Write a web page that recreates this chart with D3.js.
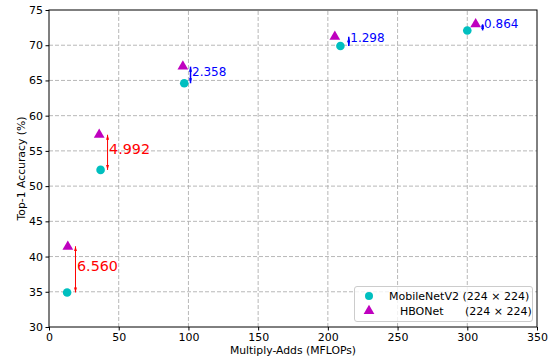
<!DOCTYPE html>
<html>
<head>
<meta charset="utf-8">
<script src="https://cdn.jsdelivr.net/npm/d3@7"></script>
<style>
  body { margin: 0; background: #fff; }
  svg { font-family: "DejaVu Sans", sans-serif; }
</style>
</head>
<body>
<svg id="chart" width="549" height="358"></svg>
<script>
// data
var mbFlops = [13, 37, 97, 209, 300];
var mbAcc = [34.9, 52.3, 64.6, 69.9, 72.1];
var hbFlops = [13.5, 36, 96, 205, 306];
var hbAcc = [41.4, 57.3, 67.0, 71.2, 73.0];
var gapText = ["6.560", "4.992", "2.358", "1.298", "0.864"];
var gapVal = [6.560, 4.992, 2.358, 1.298, 0.864];
var arrowFlops = [19, 42, 101.5, 215, 311];
var xTicks = [0, 50, 100, 150, 200, 250, 300, 350];
var yTicks = [30, 35, 40, 45, 50, 55, 60, 65, 70, 75];

var svg = d3.select("#chart");
var x = d3.scaleLinear().domain([0, 350]).range([49, 537]);
var y = d3.scaleLinear().domain([30, 75]).range([327, 10]);

// grid
svg.append("g").selectAll("line").data(xTicks.slice(1, -1)).enter().append("line")
  .attr("x1", function(d) { return x(d); }).attr("x2", function(d) { return x(d); })
  .attr("y1", y(30)).attr("y2", y(75))
  .attr("stroke", "#b0b0b0").attr("stroke-dasharray", "4,2").attr("stroke-width", 0.9);
svg.append("g").selectAll("line").data(yTicks.slice(1, -1)).enter().append("line")
  .attr("y1", function(d) { return y(d); }).attr("y2", function(d) { return y(d); })
  .attr("x1", x(0)).attr("x2", x(350))
  .attr("stroke", "#b0b0b0").attr("stroke-dasharray", "4,2").attr("stroke-width", 0.9);

// axes
var xAxis = d3.axisBottom(x).tickValues(xTicks).tickSizeOuter(0).tickSize(3.5).tickPadding(2.5);
var yAxis = d3.axisLeft(y).tickValues(yTicks).tickSizeOuter(0).tickSize(3.5).tickPadding(2.5);
var gx = svg.append("g").attr("transform", "translate(0," + y(30) + ")").call(xAxis);
var gy = svg.append("g").attr("transform", "translate(" + x(0) + ",0)").call(yAxis);
[gx, gy].forEach(function(g) {
  g.select(".domain").remove();
  g.selectAll("text").attr("font-size", 11).attr("fill", "#000").attr("font-family", "DejaVu Sans");
  g.selectAll("line").attr("stroke", "#000");
});
svg.append("rect").attr("x", x(0)).attr("y", y(75))
  .attr("width", x(350) - x(0)).attr("height", y(30) - y(75))
  .attr("fill", "none").attr("stroke", "#000").attr("stroke-width", 1);

svg.append("text").attr("x", (x(0) + x(350)) / 2).attr("y", 354)
  .attr("text-anchor", "middle").attr("font-size", 10.8).text("Multiply-Adds (MFLOPs)");
svg.append("text").attr("transform", "translate(25," + (y(30) + y(75)) / 2 + ") rotate(-90)")
  .attr("text-anchor", "middle").attr("font-size", 10.8).text("Top-1 Accuracy (%)");

// markers
var cyan = "#00bfbf", magenta = "#bf00bf";
svg.append("g").selectAll("circle").data(mbFlops).enter().append("circle")
  .attr("cx", function(d) { return x(d); })
  .attr("cy", function(d, i) { return y(mbAcc[i]); })
  .attr("r", 4.3).attr("fill", cyan);
var tri = d3.symbol().type(d3.symbolTriangle).size(50);
svg.append("g").selectAll("path").data(hbFlops).enter().append("path")
  .attr("d", tri)
  .attr("transform", function(d, i) { return "translate(" + x(d) + "," + y(hbAcc[i]) + ")"; })
  .attr("fill", magenta);

// arrows
var defs = svg.append("defs");
["red", "blue"].forEach(function(c) {
  defs.append("marker").attr("id", "head-" + c).attr("viewBox", "0 0 10 6")
    .attr("refX", 10).attr("refY", 3).attr("markerWidth", 5).attr("markerHeight", 3)
    .attr("orient", "auto-start-reverse").attr("markerUnits", "userSpaceOnUse")
    .append("path").attr("d", "M0,0 L10,3 L0,6 Z").attr("fill", c);
});
gapVal.forEach(function(g, i) {
  var c = i < 2 ? "red" : "blue";
  var y0 = y(mbAcc[i]), y1 = y(mbAcc[i] + g);
  svg.append("line").attr("x1", x(arrowFlops[i])).attr("x2", x(arrowFlops[i]))
    .attr("y1", y0).attr("y2", y1)
    .attr("stroke", c).attr("stroke-width", i < 2 ? 1 : 1.5)
    .attr("marker-start", "url(#head-" + c + ")").attr("marker-end", "url(#head-" + c + ")");
  svg.append("text").attr("x", x(arrowFlops[i]) + 1.5).attr("y", (y0 + y1) / 2 - 3)
    .attr("dominant-baseline", "central")
    .attr("font-size", i < 2 ? 14.3 : 12).attr("fill", c).text(gapText[i]);
});

// legend
var lg = svg.append("g");
lg.append("rect").attr("x", 354.5).attr("y", 286.5).attr("width", 178).attr("height", 35)
  .attr("rx", 2.5).attr("fill", "#fff").attr("fill-opacity", 0.8)
  .attr("stroke", "#cccccc").attr("stroke-width", 1);
lg.append("circle").attr("cx", 369).attr("cy", 296).attr("r", 4).attr("fill", cyan);
lg.append("path").attr("d", tri).attr("transform", "translate(369,311)").attr("fill", magenta);
lg.append("text").attr("x", 389).attr("y", 299.5).attr("font-size", 11).text("MobileNetV2 (224 × 224)");
lg.append("text").attr("x", 400).attr("y", 315).attr("font-size", 11).text("HBONet");
lg.append("text").attr("x", 465).attr("y", 315).attr("font-size", 11).text("(224 × 224)");
</script>
</body>
</html>
